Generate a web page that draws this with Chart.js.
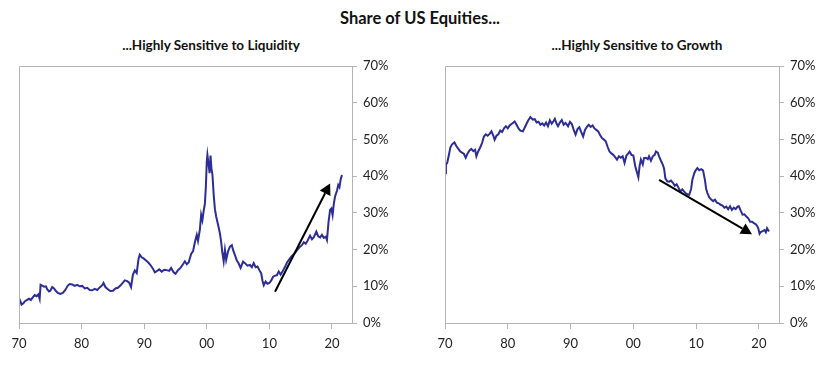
<!DOCTYPE html>
<html>
<head>
<meta charset="utf-8">
<script src="https://cdn.jsdelivr.net/npm/chart.js@4/dist/chart.umd.min.js"></script>
<style>
  body { margin:0; background:#fff; width:840px; height:365px; position:relative; overflow:hidden; font-family: Lato, "Open Sans", sans-serif; }
  .ttl { position:absolute; text-align:center; font-weight:bold; color:#111; white-space:nowrap; }
  #main { left:0; width:840px; top:8px; font-size:16.5px; }
  #subL { left:11px; width:400px; top:37px; font-size:13.5px; }
  #subR { left:437px; width:400px; top:37px; font-size:13.5px; }
  .box { position:absolute; top:0; width:420px; height:365px; }
</style>
</head>
<body>
<div id="main" class="ttl">Share of US Equities...</div>
<div id="subL" class="ttl">...Highly Sensitive to Liquidity</div>
<div id="subR" class="ttl">...Highly Sensitive to Growth</div>
<div class="box" style="left:0"><canvas id="liq" width="420" height="365"></canvas></div>
<div class="box" style="left:420px"><canvas id="gro" width="420" height="365"></canvas></div>
<script>
// year ticks and % ticks
var yearTicks = [1970, 1980, 1990, 2000, 2010, 2020];
var pctTicks = [0, 10, 20, 30, 40, 50, 60, 70];

// share highly sensitive to liquidity (%)
var liqYears = [1970.0,1970.2,1970.4,1970.7,1971.0,1971.3,1971.6,1971.9,1972.2,1972.5,1972.8,1973.1,1973.3,1973.45,1973.7,1974.0,1974.3,1974.5,1974.8,1975.0,
  1975.3,1975.6,1975.9,1976.2,1976.6,1977.0,1977.4,1977.8,1978.1,1978.5,1978.9,1979.3,1979.7,1980.1,1980.5,1980.9,1981.3,1981.7,1982.1,1982.5,
  1982.9,1983.3,1983.5,1983.8,1984.2,1984.6,1985.0,1985.4,1985.8,1986.2,1986.6,1986.9,1987.3,1987.6,1987.9,1988.2,1988.5,1988.8,1989.1,1989.3,
  1989.6,1989.9,1990.3,1990.7,1991.0,1991.4,1991.7,1992.0,1992.4,1992.8,1993.2,1993.6,1994.0,1994.3,1994.7,1995.0,1995.4,1995.8,1996.2,1996.5,
  1996.8,1997.1,1997.5,1997.8,1998.1,1998.4,1998.6,1998.9,1999.1,1999.3,1999.5,1999.7,1999.85,2000.0,2000.1,2000.3,2000.45,2000.6,2000.75,2000.9,
  2001.1,2001.3,2001.5,2001.7,2001.9,2002.1,2002.3,2002.5,2002.7,2002.9,2003.1,2003.4,2003.7,2004.0,2004.2,2004.5,2004.8,2005.1,2005.4,2005.8,
  2006.1,2006.5,2006.9,2007.2,2007.5,2007.8,2008.1,2008.4,2008.7,2008.9,2009.1,2009.4,2009.7,2010.0,2010.3,2010.6,2010.9,2011.2,2011.5,2011.8,
  2012.1,2012.5,2012.8,2013.2,2013.6,2014.0,2014.4,2014.8,2015.2,2015.5,2015.8,2016.1,2016.5,2016.8,2017.1,2017.5,2017.8,2018.1,2018.4,2018.7,
  2019.0,2019.2,2019.45,2019.7,2019.9,2020.1,2020.3,2020.5,2020.8,2021.0,2021.2,2021.4,2021.6];
var liqShare = [6.8,6.0,5.0,5.4,6.0,6.3,6.6,6.3,7.0,7.6,7.3,7.8,6.6,10.4,10.2,9.9,10.0,9.2,8.6,8.8,
  9.8,9.4,8.7,8.2,7.9,8.2,9.0,10.2,10.6,10.5,10.1,10.4,10.0,10.1,9.4,9.6,9.0,8.9,9.3,9.0,
  9.7,10.3,10.9,9.8,9.2,8.7,8.8,9.4,9.6,10.2,11.0,11.6,11.4,11.0,9.8,13.2,14.3,13.6,17.5,18.6,
  17.9,17.6,17.0,16.4,15.8,14.8,13.8,14.1,14.6,14.0,14.5,14.4,14.2,15.0,13.8,13.4,14.4,15.0,16.0,16.8,
  16.0,16.5,18.8,19.5,22.0,24.0,22.4,25.5,29.5,28.0,30.5,32.5,37.0,44.0,45.8,43.0,40.8,45.6,42.0,40.5,
  35.0,31.0,29.0,27.5,26.0,24.4,22.0,19.0,16.8,19.9,17.2,19.5,20.8,21.2,19.9,18.5,17.0,16.2,15.0,16.7,
  16.3,15.6,15.8,15.2,16.3,15.2,15.4,14.4,13.5,11.5,10.3,11.3,10.7,10.9,11.6,12.6,12.9,13.0,14.0,13.2,
  14.0,15.3,16.4,17.4,18.3,18.9,19.8,20.6,21.2,22.0,21.6,22.4,23.8,22.8,23.4,24.9,23.6,23.3,24.0,23.2,
  23.5,22.6,27.5,30.8,31.2,29.4,32.5,34.5,36.0,37.6,37.0,39.2,40.3];

// share highly sensitive to growth (%)
var groYears = [1970.0,1970.15,1970.35,1970.6,1970.85,1971.1,1971.5,1971.8,1972.1,1972.4,1972.7,1973.0,1973.3,1973.6,1973.9,1974.2,1974.5,1974.8,1975.0,1975.3,
  1975.6,1975.9,1976.2,1976.5,1976.8,1977.1,1977.4,1977.7,1977.9,1978.2,1978.5,1978.8,1979.1,1979.4,1979.7,1980.0,1980.3,1980.6,1980.9,1981.1,
  1981.4,1981.7,1982.0,1982.4,1982.8,1983.2,1983.6,1984.0,1984.3,1984.6,1984.9,1985.2,1985.5,1985.8,1986.1,1986.4,1986.7,1987.0,1987.3,1987.5,
  1987.8,1988.0,1988.3,1988.6,1988.9,1989.2,1989.6,1989.9,1990.2,1990.5,1990.8,1991.1,1991.4,1991.7,1992.0,1992.3,1992.6,1992.9,1993.2,1993.5,
  1993.8,1994.1,1994.4,1994.7,1995.0,1995.3,1995.6,1995.9,1996.2,1996.5,1996.8,1997.1,1997.4,1997.7,1998.0,1998.3,1998.6,1998.9,1999.2,1999.4,
  1999.7,2000.0,2000.3,2000.5,2000.8,2001.0,2001.2,2001.5,2001.7,2002.0,2002.3,2002.5,2002.8,2003.1,2003.4,2003.6,2003.9,2004.1,2004.4,2004.7,
  2004.9,2005.1,2005.4,2005.7,2006.0,2006.3,2006.6,2006.9,2007.2,2007.5,2007.8,2008.1,2008.4,2008.7,2008.9,2009.2,2009.4,2009.7,2009.9,2010.2,
  2010.5,2010.8,2011.1,2011.4,2011.6,2011.8,2012.1,2012.4,2012.7,2013.0,2013.3,2013.6,2013.9,2014.2,2014.5,2014.8,2015.1,2015.4,2015.7,2016.0,
  2016.3,2016.6,2016.8,2017.1,2017.4,2017.7,2018.0,2018.3,2018.6,2018.9,2019.2,2019.5,2019.7,2019.9,2020.1,2020.3,2020.6,2020.9,2021.1,2021.3,2021.6];
var groShare = [40.8,43.2,43.6,45.6,47.8,48.6,49.2,48.2,47.5,46.8,46.4,46.1,45.0,46.2,47.0,47.4,46.8,47.2,45.4,46.8,
  47.8,49.0,50.8,51.4,51.0,51.5,52.2,51.0,49.9,51.0,51.4,52.4,52.0,53.0,53.6,53.0,53.8,54.2,54.6,54.9,
  54.0,53.0,52.4,52.2,53.6,55.0,56.1,55.4,55.5,54.6,54.8,54.0,54.4,53.8,54.6,53.6,55.2,54.3,55.0,55.6,
  54.2,53.6,54.6,55.3,54.0,54.5,53.6,54.8,54.2,52.6,51.3,52.8,53.3,52.0,50.8,52.6,53.4,54.0,53.4,53.8,
  53.0,52.6,52.2,51.2,50.4,50.0,49.5,48.0,46.7,46.2,45.8,45.2,44.5,45.4,45.0,45.4,43.6,45.6,46.2,46.7,
  45.8,45.6,42.7,41.5,39.7,42.8,44.5,43.2,44.9,45.0,44.6,45.4,44.2,45.4,45.8,46.7,46.4,45.4,44.2,43.1,
  42.0,39.4,38.6,38.5,38.8,38.2,37.4,37.8,36.8,35.8,36.4,35.8,35.2,35.0,34.9,36.5,39.0,40.8,41.5,42.2,
  41.6,41.9,41.6,39.0,36.5,35.4,34.2,33.6,33.2,33.6,32.8,32.6,32.2,32.0,31.4,31.7,31.0,31.8,30.8,31.4,
  31.0,31.7,31.8,30.6,29.5,29.6,29.0,28.5,27.6,27.6,27.2,26.9,26.5,25.8,24.3,24.8,25.0,25.3,24.7,25.8,24.9];

// trend arrows [year, %] from -> to
var liqArrow = [[2010.9, 8.5], [2019.7, 38.0]];
var groArrow = [[2004.1, 39.0], [2018.9, 24.2]];

var lineColor = '#2d2d96';
var axisColor = '#b4b4b4';
var tickFont = { family: 'Lato, "Open Sans", sans-serif', size: 13 };

var framePlugin = {
  id: 'frame',
  afterDraw: function(chart, args, opts) {
    var ctx = chart.ctx, a = chart.chartArea;
    ctx.save();
    ctx.strokeStyle = axisColor;
    ctx.lineWidth = 1;
    ctx.beginPath();
    ctx.moveTo(a.left + 0.5, a.bottom);
    ctx.lineTo(a.left + 0.5, a.top + 0.5);
    ctx.lineTo(a.right, a.top + 0.5);
    ctx.stroke();
    // arrow
    var xs = chart.scales.x, ys = chart.scales.y;
    var p0 = opts.arrow[0], p1 = opts.arrow[1];
    var x0 = xs.getPixelForValue(p0[0]), y0 = ys.getPixelForValue(p0[1]);
    var x1 = xs.getPixelForValue(p1[0]), y1 = ys.getPixelForValue(p1[1]);
    var ang = Math.atan2(y1 - y0, x1 - x0);
    var hl = 11, hw = 6;
    var bx = x1 - hl * Math.cos(ang), by = y1 - hl * Math.sin(ang);
    ctx.strokeStyle = '#000';
    ctx.fillStyle = '#000';
    ctx.lineWidth = 2;
    ctx.beginPath();
    ctx.moveTo(x0, y0);
    ctx.lineTo(bx, by);
    ctx.stroke();
    ctx.beginPath();
    ctx.moveTo(x1, y1);
    ctx.lineTo(bx + hw * Math.sin(ang), by - hw * Math.cos(ang));
    ctx.lineTo(bx - hw * Math.sin(ang), by + hw * Math.cos(ang));
    ctx.closePath();
    ctx.fill();
    ctx.restore();
  }
};

function makeChart(id, years, values, arrow, pad) {
  var pts = years.map(function(x, i) { return { x: x, y: values[i] }; });
  return new Chart(document.getElementById(id), {
    type: 'line',
    data: { datasets: [{ data: pts, borderColor: lineColor, borderWidth: 2, pointRadius: 0, tension: 0, fill: false }] },
    options: {
      responsive: false,
      animation: false,
      devicePixelRatio: 1,
      layout: { padding: pad },
      plugins: { legend: { display: false }, tooltip: { enabled: false }, frame: { arrow: arrow } },
      scales: {
        x: {
          type: 'linear', min: 1970, max: 2023.2,
          afterBuildTicks: function(s) { s.ticks = yearTicks.map(function(v) { return { value: v }; }); },
          afterFit: function(s) { s.height = 42; },
          grid: { drawOnChartArea: false, tickLength: 6, color: axisColor },
          border: { color: axisColor },
          ticks: { color: '#222', font: tickFont, padding: 7, maxRotation: 0,
            callback: function(v) { return String(v % 100).padStart(2, '0'); } }
        },
        y: {
          position: 'right', min: 0, max: 70,
          afterBuildTicks: function(s) { s.ticks = pctTicks.map(function(v) { return { value: v }; }); },
          afterFit: function(s) { s.width = 60; },
          grid: { drawOnChartArea: false, tickLength: 5, color: axisColor },
          border: { color: axisColor },
          ticks: { color: '#222', font: tickFont, padding: 6, callback: function(v) { return v + '%'; } }
        }
      }
    },
    plugins: [framePlugin]
  });
}

makeChart('liq', liqYears, liqShare, liqArrow, { left: 19, top: 66, right: 8, bottom: 0 });
makeChart('gro', groYears, groShare, groArrow, { left: 25, top: 66, right: 1, bottom: 0 });
</script>
</body>
</html>
